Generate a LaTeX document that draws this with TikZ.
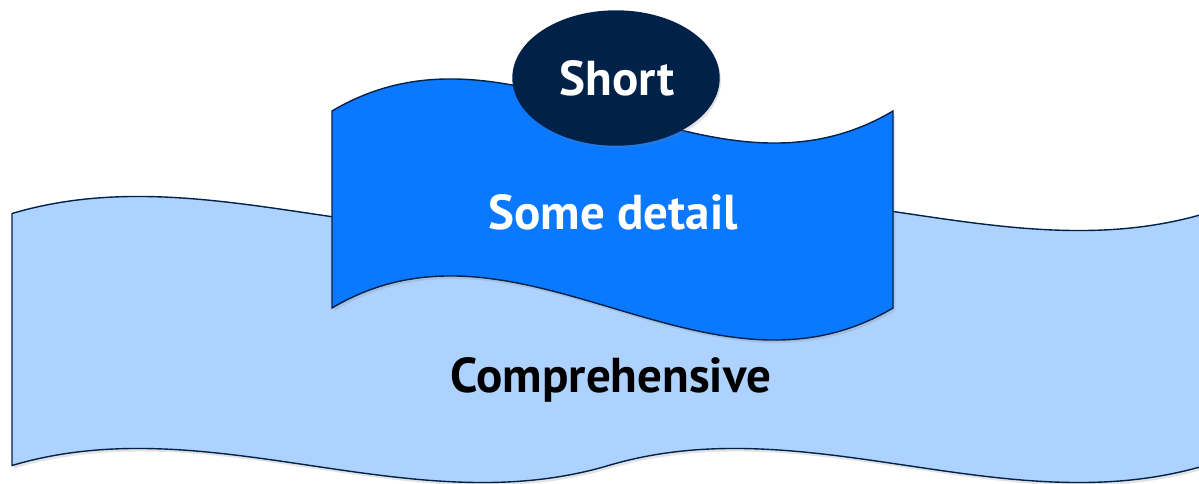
\documentclass[tikz,border=0pt]{standalone}
\usepackage{fontspec}
\setmainfont{PT Sans}
\usetikzlibrary{shapes.geometric,shadows}
\definecolor{lightblu}{RGB}{173,210,254}
\definecolor{midblu}{RGB}{10,120,255}
\definecolor{navy}{RGB}{1,34,72}
\tikzset{
  wavebox/.style={draw=navy, line width=1.4pt, line join=miter,
    drop shadow={opacity=0.22, shadow xshift=2pt, shadow yshift=-3pt}},
  lbl/.style={font=\bfseries\fontsize{49}{58}\selectfont, inner sep=0pt}
}
\begin{document}
\begin{tikzpicture}[x=1pt,y=-1pt]
\useasboundingbox (0,0) rectangle (1199,484);
% large double wave
\path[wavebox, fill=lightblu]
  (12,213.5) .. controls (210.8,154.5) and (409.7,272.5) .. (608.5,213.5)
  .. controls (807.3,154.5) and (1006.2,272.5) .. (1205,213.5)
  -- (1205,465.5)
  .. controls (1006.2,524.5) and (807.3,406.5) .. (608.5,465.5)
  .. controls (409.7,524.5) and (210.8,406.5) .. (12,465.5) -- cycle;
% medium wave
\path[wavebox, fill=midblu]
  (332,111) .. controls (519,0) and (706,222) .. (893,111)
  -- (893,308)
  .. controls (706,419) and (519,197) .. (332,308) -- cycle;
% ellipse
\node[ellipse, draw=navy, fill=navy, line width=1.4pt, minimum width=206pt, minimum height=134pt,
  inner sep=0pt, drop shadow={opacity=0.22, shadow xshift=2pt, shadow yshift=-3pt}] (shortell) at (616,78) {};
\node[lbl, text=white] (short) at (617,78) {Short};
\node[lbl, text=white] (detail) at (613,212) {Some detail};
\node[lbl, text=black] (compr) at (611,380) {Comprehensive};
\end{tikzpicture}
\end{document}
